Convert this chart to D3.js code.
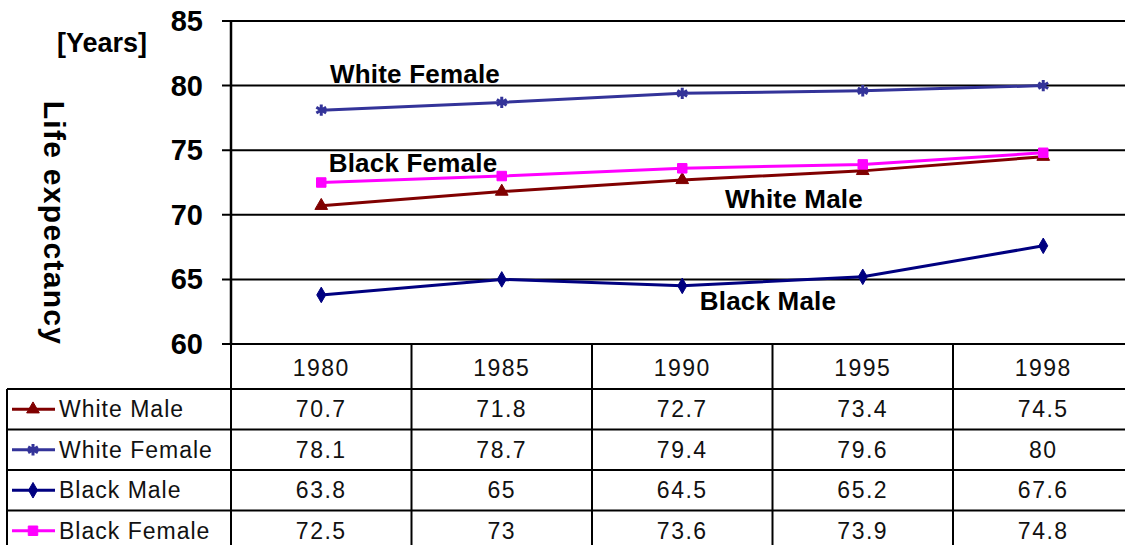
<!DOCTYPE html>
<html>
<head>
<meta charset="utf-8">
<script src="https://cdn.jsdelivr.net/npm/d3@7"></script>
<style>
  body { margin: 0; background: #fff; }
  svg { display: block; }
</style>
</head>
<body>
<svg id="chart" width="1125" height="545"></svg>
<script>
const years = ["1980", "1985", "1990", "1995", "1998"];
const yTicks = [60, 65, 70, 75, 80, 85];
const seriesNames = ["White Male", "White Female", "Black Male", "Black Female"];
const whiteMale = [70.7, 71.8, 72.7, 73.4, 74.5];
const whiteFemale = [78.1, 78.7, 79.4, 79.6, 80];
const blackMale = [63.8, 65, 64.5, 65.2, 67.6];
const blackFemale = [72.5, 73, 73.6, 73.9, 74.8];

const series = [
    {name: seriesNames[0], values: whiteMale, color: "#800000", symbol: d3.symbolTriangle, fill: true, size: 70},
    {name: seriesNames[1], values: whiteFemale, color: "#333399", symbol: d3.symbolAsterisk, fill: false, size: 90},
    {name: seriesNames[2], values: blackMale, color: "#000080", symbol: d3.symbolDiamond, fill: true, size: 70},
    {name: seriesNames[3], values: blackFemale, color: "#FF00FF", symbol: d3.symbolSquare, fill: true, size: 90}
];

// where the in-plot labels sit (x in px, y baseline in data units)
const labelPos = [
    {x: 794, y: 70.5},
    {x: 415, y: 80.2},
    {x: 768, y: 62.6},
    {x: 413, y: 73.3}
];

const svg = d3.select("#chart");
const plotLeft = 231, plotTop = 21, plotBottom = 344, colW = 180.5;
const tableLeft = 7, rowH = 40.5, headH = 45;

const x = d3.scaleBand().domain(years).range([plotLeft, plotLeft + colW * years.length]);
const y = d3.scaleLinear().domain([60, 85]).range([plotBottom, plotTop]);

// gridlines
svg.append("g")
    .selectAll("line")
    .data(yTicks)
    .join("line")
    .attr("x1", plotLeft - 9).attr("x2", 1125)
    .attr("y1", d => y(d)).attr("y2", d => y(d))
    .style("stroke", "#000").style("stroke-width", 2);

// y axis line
svg.append("line")
    .attr("x1", plotLeft).attr("x2", plotLeft).attr("y1", plotTop).attr("y2", plotBottom)
    .style("stroke", "#000").style("stroke-width", 2.5);

// y tick labels
svg.append("g")
    .selectAll("text")
    .data(yTicks)
    .join("text")
    .attr("x", plotLeft - 28).attr("y", d => y(d) + 10)
    .attr("text-anchor", "end")
    .style("font-family", "'Liberation Sans Narrow', 'Liberation Sans', Arial, sans-serif")
    .style("font-weight", "bold").style("font-size", "29px")
    .text(d => d);

svg.append("text").text("[Years]")
    .attr("x", 57).attr("y", 52)
    .style("font-family", "'Liberation Sans', Arial, sans-serif")
    .style("font-weight", "bold").style("font-size", "27px");

svg.append("text").text("Life expectancy")
    .attr("transform", "translate(44,223) rotate(90)")
    .attr("text-anchor", "middle")
    .style("font-family", "'Liberation Sans', Arial, sans-serif")
    .style("font-weight", "bold").style("font-size", "30px")
    .style("letter-spacing", "1.3px");

// lines
const line = d3.line()
    .x((d, i) => x(years[i]) + x.bandwidth() / 2)
    .y(d => y(d));

series.forEach(function(s) {
    svg.append("path")
        .datum(s.values)
        .attr("fill", "none")
        .attr("stroke", s.color)
        .attr("stroke-width", 3)
        .attr("d", line);
    svg.append("g")
        .selectAll("path")
        .data(s.values)
        .join("path")
        .attr("transform", (d, i) => "translate(" + (x(years[i]) + x.bandwidth() / 2) + "," + y(d) + ")")
        .attr("d", d3.symbol().type(s.symbol).size(s.size))
        .style("fill", s.fill ? s.color : "none")
        .style("stroke", s.color)
        .style("stroke-width", s.fill ? 1 : 3);
});

// series labels
svg.append("g")
    .selectAll("text")
    .data(seriesNames)
    .join("text")
    .attr("x", (d, i) => labelPos[i].x)
    .attr("y", (d, i) => y(labelPos[i].y))
    .attr("text-anchor", "middle")
    .style("font-family", "'Liberation Sans', Arial, sans-serif")
    .style("font-weight", "bold").style("font-size", "26px")
    .style("letter-spacing", "0.2px")
    .text(d => d);

// data table
const table = svg.append("g").style("font-family", "'Liberation Sans', Arial, sans-serif");
const tableBottom = plotBottom + headH + rowH * series.length;
const plotRight = plotLeft + colW * years.length;

table.selectAll("line.hv")
    .data(years.concat(["end"]))
    .join("line")
    .attr("x1", (d, i) => plotLeft + colW * i).attr("x2", (d, i) => plotLeft + colW * i)
    .attr("y1", plotBottom).attr("y2", tableBottom)
    .style("stroke", "#000").style("stroke-width", 2);

table.selectAll("text.year")
    .data(years)
    .join("text")
    .attr("x", d => x(d) + x.bandwidth() / 2)
    .attr("y", plotBottom + headH / 2 + 9)
    .attr("text-anchor", "middle")
    .style("font-size", "23px").style("fill", "#111")
    .style("letter-spacing", "1.5px")
    .text(d => d);

const rowTops = series.map((s, i) => plotBottom + headH + rowH * i);
table.selectAll("line.row")
    .data(rowTops)
    .join("line")
    .attr("x1", tableLeft).attr("x2", plotRight)
    .attr("y1", d => d).attr("y2", d => d)
    .style("stroke", "#000").style("stroke-width", 2);

table.append("line")
    .attr("x1", tableLeft).attr("x2", tableLeft)
    .attr("y1", plotBottom + headH).attr("y2", tableBottom)
    .style("stroke", "#000").style("stroke-width", 2);

series.forEach(function(s, r) {
    const cy = rowTops[r] + rowH / 2;
    // legend key
    table.append("line")
        .attr("x1", 12).attr("x2", 55).attr("y1", cy).attr("y2", cy)
        .style("stroke", s.color).style("stroke-width", 3);
    table.append("path")
        .attr("transform", "translate(33," + cy + ")")
        .attr("d", d3.symbol().type(s.symbol).size(s.size))
        .style("fill", s.fill ? s.color : "none")
        .style("stroke", s.color)
        .style("stroke-width", s.fill ? 1 : 3);
    table.append("text")
        .attr("x", 59).attr("y", cy + 8)
        .style("font-size", "23px").style("fill", "#111")
        .style("letter-spacing", "1px")
        .text(s.name);
    table.selectAll(null)
        .data(s.values)
        .join("text")
        .attr("x", (d, i) => x(years[i]) + x.bandwidth() / 2)
        .attr("y", cy + 8)
        .attr("text-anchor", "middle")
        .style("font-size", "23px").style("fill", "#111")
        .style("letter-spacing", "1.5px")
        .text(d => d);
});
</script>
</body>
</html>
